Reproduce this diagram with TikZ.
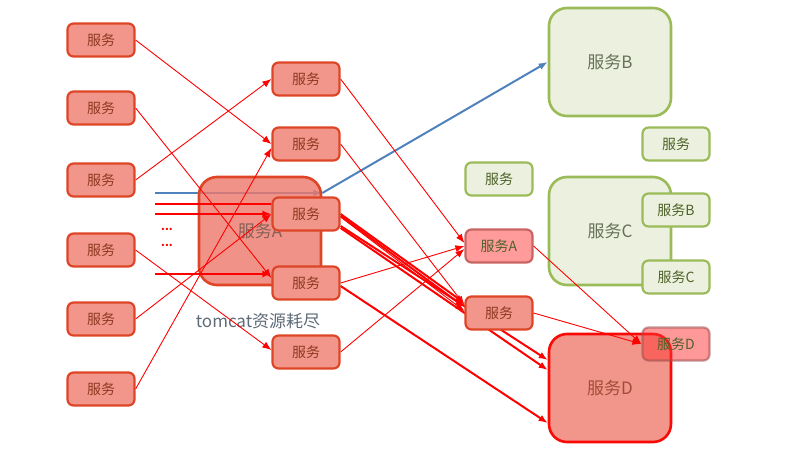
\documentclass[tikz,border=0pt]{standalone}
\usepackage{fontspec}
\newfontfamily\cjk{Noto Sans CJK SC}
\usetikzlibrary{arrows.meta}

\definecolor{svcfill}{HTML}{F2968B}
\definecolor{svcline}{HTML}{DE4526}
\definecolor{svctext}{HTML}{8E3A22}
\definecolor{abigfill}{HTML}{EE776B}
\definecolor{okfill}{HTML}{EBF1DE}
\definecolor{okline}{HTML}{9BBB59}
\definecolor{oktext}{HTML}{4F6228}
\definecolor{okgray}{HTML}{67705A}
\definecolor{hotfill}{HTML}{FF9B9B}
\definecolor{hotline}{HTML}{C86462}
\definecolor{callblue}{HTML}{4F81BD}
\definecolor{notegray}{HTML}{5F6B78}

\pgfdeclarelayer{under}
\pgfdeclarelayer{back}
\pgfdeclarelayer{front}
\pgfdeclarelayer{top}
\pgfsetlayers{under,back,main,front,top}

\begin{document}
\begin{tikzpicture}[x=1pt, y=-1pt, font={\cjk\fontsize{14}{16}\selectfont},
    svc/.style={draw=svcline, fill=svcfill, text=svctext, line width=2.2pt,
        rounded corners=6pt, minimum width=67pt, minimum height=33pt, inner sep=0pt},
    bigsvc/.style={svc, rounded corners=18pt, minimum width=122pt, minimum height=108pt,
        line width=2.6pt, font={\cjk\fontsize{17}{20}\selectfont}},
    oksvc/.style={svc, draw=okline, fill=okfill, text=oktext},
    okbig/.style={bigsvc, draw=okline, fill=okfill, text=okgray},
    hotsvc/.style={svc, draw=hotline, fill=hotfill, text=oktext},
    call/.style={red, line width=0.9pt, -{Latex[length=9pt,width=7pt]}},
    flood/.style={call, line width=2pt}]

        \useasboundingbox (0,0) rectangle (788,453);

        % Overloaded service A
        \begin{pgfonlayer}{back}
        \node[bigsvc, fill=abigfill, fill opacity=0.8, text opacity=1, text=svctext!45!gray] (abig) at (260,231) {服务A};
        \end{pgfonlayer}

        \begin{pgfonlayer}{front}
        % Callers
        \node[svc] (l1) at (101,40) {服务};
        \node[svc] (l2) at (101,108) {服务};
        \node[svc] (l3) at (101,180) {服务};
        \node[svc] (l4) at (101,250) {服务};
        \node[svc] (l5) at (101,319) {服务};
        \node[svc] (l6) at (101,389) {服务};

        % Middle services
        \node[svc] (m1) at (306,79) {服务};
        \node[svc] (m2) at (306,144) {服务};
        \node[svc] (m3) at (306,214) {服务};
        \node[svc] (m4) at (306,283) {服务};
        \node[svc] (m5) at (306,352) {服务};

        % Healthy services B and C
        \node[okbig] (bbig) at (610,62) {服务B};
        \node[oksvc] (g1) at (676,144) {服务};
        \node[oksvc] (g2) at (499,179) {服务};
        \node[okbig] (cbig) at (610,231) {服务C};
        \node[oksvc] (gb) at (676,210) {服务B};
        \node[oksvc] (gc) at (676,277) {服务C};

        % Failing services
        \node[hotsvc] (sa) at (499,246) {服务A};
        \node[svc] (s) at (499,313) {服务};
        \node[bigsvc, draw=red!85!svcline, text=svctext!80!svcfill] (dbig) at (610,388) {服务D};
        \end{pgfonlayer}

        \begin{pgfonlayer}{top}
        \node[hotsvc, fill=red!80, fill opacity=0.5, text opacity=1, draw opacity=0.6, draw=hotline!80!black] (sd) at (676,344) {服务D};
        \end{pgfonlayer}

        % Labels
        \node[text=red, font={\cjk\fontsize{11}{11}\selectfont\bfseries}] (dots1) at (167,229) {...};
        \node[text=red, font={\cjk\fontsize{11}{11}\selectfont\bfseries}] (dots2) at (167,245) {...};
        \node[text=notegray, font={\cjk\fontsize{17}{20}\selectfont}] (note) at (258,321) {tomcat资源耗尽};

        % Incoming requests
        \coordinate (in0) at (155,193);
        \coordinate (in1) at (155,204);
        \coordinate (in2) at (155,214);
        \coordinate (in3) at (155,274);

        \begin{pgfonlayer}{under}
        \draw[call, callblue, line width=2pt] (in0) -- (abig.east |- in0);
        \end{pgfonlayer}
        \draw[call, callblue, line width=2pt] (abig.east |- in0) -- (bbig.west);

        \draw[flood, -] (in1) -- ([yshift=10pt]m3.west);
        \draw[flood] (in2) -- (m3.west);
        \draw[flood] (in3) -- ([yshift=9pt]m4.west);

        % Callers to middle
        \draw[call] (l1.east) -- (m2.west);
        \draw[call] (l2.east) -- ([yshift=5pt]m4.west);
        \draw[call] (l3.east) -- (m1.west);
        \draw[call] (l4.east) -- ([yshift=2pt]m5.west);
        \draw[call] (l5.east) -- (m3.west);
        \draw[call] (l6.east) -- ([yshift=-4pt]m2.west);

        % Middle to failing services
        \draw[call] (m1.east) -- ([yshift=3pt]sa.west);
        \draw[call] (m2.east) -- ([yshift=8pt]s.west);
        \draw[flood] (m3.east) -- ([yshift=10pt]s.west);
        \draw[flood] ([yshift=-2pt]m3.east) -- ([yshift=6pt]s.west);
        \draw[call] ([yshift=-3pt]m3.east) -- ([yshift=2pt]s.west);
        \draw[flood] ([yshift=-12pt]m3.east) -- ([yshift=28pt]dbig.west);
        \draw[flood] ([yshift=-14pt]m3.east) -- ([yshift=18pt]dbig.west);
        \draw[call] (m4.east) -- (sa.west);
        \draw[flood] ([yshift=-3pt]m4.east) -- ([yshift=-35pt]dbig.west);
        \draw[call] (m5.east) -- ([yshift=-3pt]sa.west);

        % Into service D
        \begin{pgfonlayer}{front}
        \draw[call] (sa.east) -- (sd.west);
        \draw[call] (s.east) -- (sd.west);
        \end{pgfonlayer}

    \end{tikzpicture}
\end{document}
